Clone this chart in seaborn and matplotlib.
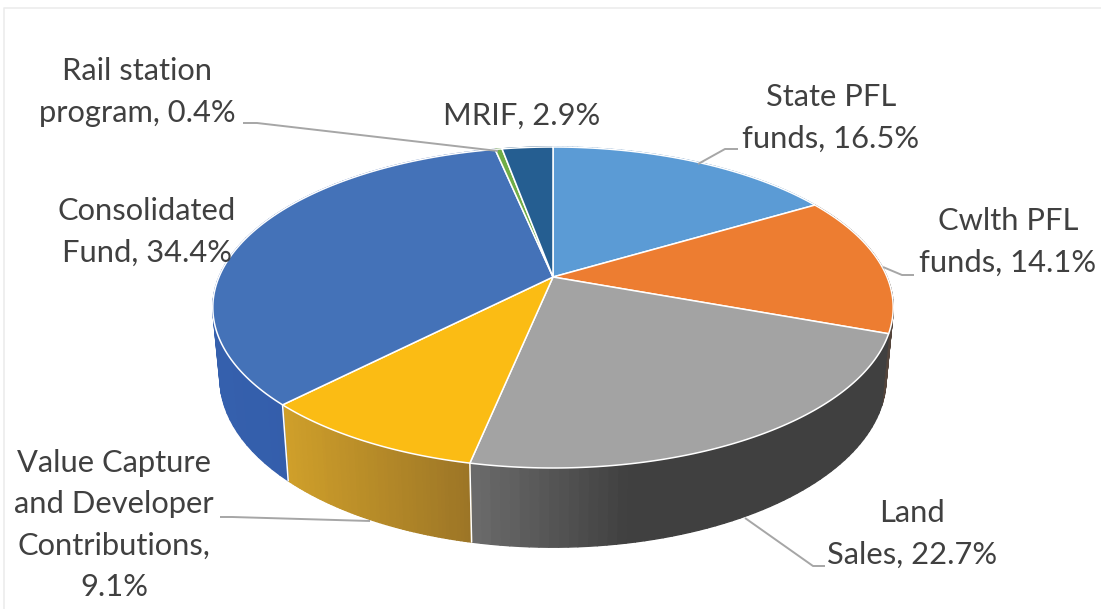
import numpy as np
import seaborn as sns
import matplotlib.pyplot as plt
from matplotlib.collections import PolyCollection

sns.set_theme(style='white')
plt.rcParams['font.family'] = ['Lato', 'DejaVu Sans']

# clockwise from 12 o'clock
names = ['State PFL\nfunds, 16.5%', 'Cwlth PFL\nfunds, 14.1%', 'Land\nSales, 22.7%',
         'Value Capture\nand Developer\nContributions,\n9.1%', 'Consolidated\nFund, 34.4%',
         'Rail station\nprogram, 0.4%', 'MRIF, 2.9%']
shares = [16.5, 14.1, 22.7, 9.1, 34.4, 0.4, 2.9]
top_colors = ['#5b9bd5', '#ed7d31', '#a3a3a3', '#fbbc14', '#4472b8', '#70ad47', '#255e91']
wall_left = ['#4a80b5', '#54453c', '#6c6c6c', '#cf9f2a', '#3560ad', '#5a8f38', '#1e4f7c']
wall_right = ['#4a80b5', '#54453c', '#404040', '#9c7526', '#3058a6', '#5a8f38', '#1e4f7c']
# how fast each wall reaches its right colour
shade_speed = [1, 1, 2.6, 1, 1, 1, 1]
label_xy = [(831, 118), (1008, 242), (912, 534), (114, 525), (147, 232), (137, 92), (522, 116)]

# leader lines
leaders = [[(698, 164), (725, 149), (738, 149)],
           [(883, 267), (902, 275), (914, 275)],
           [(745, 518), (813, 566), (825, 566)],
           [(220, 517), (232, 517), (370, 521)],
           [(243, 123), (257, 123), (498, 151)]]

# perspective of the upper and lower disc: (cx, cy, a, b, k)
upper = (553, 277, 334, 154.7, 0.19)
lower = (553, 346, 327, 163, 0.19)


def project(theta, disc):
    cx, cy, a, b, k = disc
    d = 1 + k * np.cos(theta)
    return cx + a * np.sin(theta) / d, cy - b * np.cos(theta) / d


fig = plt.figure(figsize=(11.01, 6.09), dpi=100)
ax = fig.add_axes([0, 0, 1, 1])
ax.set_xlim(0, 1101)
ax.set_ylim(609, 0)
ax.axis('off')

# faint chart frame
ax.plot([4, 4, 1101], [609, 8, 8], color='#ececec', lw=1.2)

edges = np.radians(np.cumsum([0] + shares) / sum(shares) * 360)

# walls first, top faces cover what is behind
for i in range(len(shares)):
    th = np.linspace(edges[i], edges[i + 1], 60)
    xt, yt = project(th, upper)
    xb, yb = project(th, lower)
    quads = [[(xt[j], yt[j]), (xt[j + 1], yt[j + 1]), (xb[j + 1], yb[j + 1]), (xb[j], yb[j])]
             for j in range(len(th) - 1)]
    pal = sns.blend_palette([wall_left[i], wall_right[i]], 40)
    t = (xt[:-1] - xt.min()) / max(xt.max() - xt.min(), 1)
    t = np.clip(t * shade_speed[i], 0, 1)
    cols = [pal[int(v * 39)] for v in t]
    ax.add_collection(PolyCollection(quads, facecolors=cols, edgecolors=cols, linewidths=1.0, zorder=2))

for e in edges:
    # seams on the front left only
    if np.cos(e) < 0 and np.sin(e) < 0:
        ex0, ey0 = project(e, upper)
        ex1, ey1 = project(e, lower)
        ax.plot([ex0, ex1], [ey0, ey1], color='white', lw=1.1, zorder=2.5)

for i in range(len(shares)):
    th = np.linspace(edges[i], edges[i + 1], 120)
    x, y = project(th, upper)
    x = np.r_[upper[0], x]
    y = np.r_[upper[1], y]
    ax.fill(x, y, facecolor=top_colors[i], edgecolor='white', lw=1.1, joinstyle='round', zorder=3)

for pts in leaders:
    xs, ys = zip(*pts)
    ax.plot(xs, ys, color='#a6a6a6', lw=1.4, zorder=4, solid_capstyle='butt')

for name, (lx, ly) in zip(names, label_xy):
    ax.text(lx, ly, name, ha='center', va='center', fontsize=22.2, color='#404040',
            linespacing=1.57, zorder=5)

fig.savefig('out.png', dpi=100, facecolor='white')
